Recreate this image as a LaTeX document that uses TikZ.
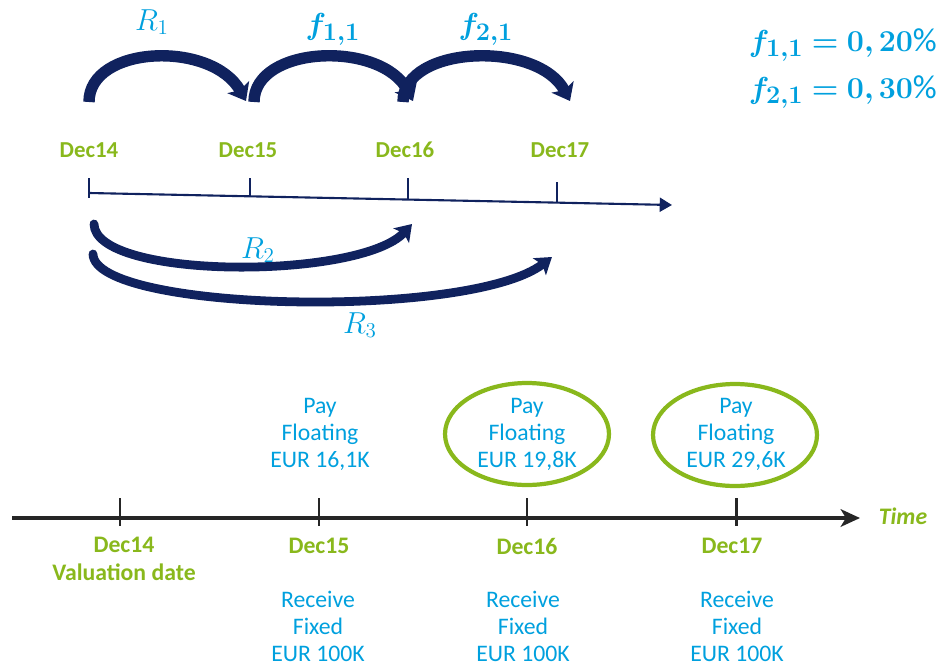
\documentclass[tikz,border=0pt]{standalone}
\usepackage{amsmath,bm}
\usepackage{fontspec}
\setmainfont{Carlito}
\usetikzlibrary{arrows.meta,shapes.geometric}
\definecolor{navy}{RGB}{16,34,94}
\definecolor{sky}{RGB}{0,160,222}
\definecolor{leaf}{RGB}{137,184,28}
\definecolor{axis}{RGB}{38,38,38}
\begin{document}
\begin{tikzpicture}[x=0.02cm,y=-0.02cm,
  smalldate/.style={text=leaf,font=\bfseries\fontsize{13}{15}\selectfont},
  bigdate/.style={text=leaf,font=\bfseries\fontsize{13.5}{16}\selectfont,align=center},
  flow/.style={text=sky,font=\fontsize{13.5}{15.4}\selectfont,align=center},
  mathlbl/.style={text=sky,font=\fontsize{17}{20}\selectfont},
  fwdlbl/.style={text=sky,font=\fontsize{19}{22}\selectfont},
  ratelbl/.style={text=sky,font=\fontsize{19}{22}\selectfont,anchor=east},
  bigarc/.style={draw=navy,line width=6.5pt,-{Stealth[length=9pt,width=14pt,inset=2pt]}},
  lowarc/.style={draw=navy,line width=5pt,line cap=round,-{Stealth[length=9pt,width=12pt,inset=2pt]}},
  topaxis/.style={draw=navy,line width=1.2pt},
  botaxis/.style={draw=axis,line width=2.3pt},
  bottick/.style={draw=axis,line width=1.7pt},
  ring/.style={draw=leaf,line width=2.4pt,ellipse,minimum width=3.28cm,minimum height=2.04cm}]
\useasboundingbox (0,0) rectangle (947,666);

% ---------- upper time line ----------
\coordinate (u0) at (89,193);
\coordinate (uend) at (672,205);
\draw[topaxis,-{Triangle[length=7pt,width=8pt]}] (u0) -- (uend);
\coordinate (u14a) at (89,178);  \coordinate (u14b) at (89,198);
\coordinate (u15a) at (250,178); \coordinate (u15b) at (250,196.3);
\coordinate (u16a) at (408,178); \coordinate (u16b) at (408,199.6);
\coordinate (u17a) at (557,182); \coordinate (u17b) at (557,202.6);
\draw[topaxis] (u14a) -- (u14b);
\draw[topaxis] (u15a) -- (u15b);
\draw[topaxis] (u16a) -- (u16b);
\draw[topaxis] (u17a) -- (u17b);

\node[smalldate] (ud14) at (89,150) {Dec14};
\node[smalldate] (ud15) at (248,150) {Dec15};
\node[smalldate] (ud16) at (405,150) {Dec16};
\node[smalldate] (ud17) at (560,150) {Dec17};

% ---------- rate arcs above ----------
\coordinate (a1s) at (89,102);  \coordinate (a1e) at (246,101);
\coordinate (a2s) at (254,102); \coordinate (a2e) at (413,101);
\coordinate (a3s) at (403,102); \coordinate (a3e) at (570,101);
\draw[bigarc] (a1s) .. controls (89,45) and (212,40) .. (a1e);
\draw[bigarc] (a2s) .. controls (254,45) and (382,40) .. (a2e);
\draw[bigarc] (a3s) .. controls (403,45) and (538,40) .. (a3e);

\node[mathlbl] (r1) at (152,22) {$R_1$};
\node[fwdlbl] (f11) at (333,29) {$\bm{f_{1,1}}$};
\node[fwdlbl] (f21) at (486,29) {$\bm{f_{2,1}}$};

% ---------- spot rate arcs below ----------
\coordinate (b2s) at (94,224);  \coordinate (b2e) at (412,224);
\coordinate (b3s) at (93,254);  \coordinate (b3e) at (552,257);
\draw[lowarc] (b2s) .. controls (95,280) and (360,280) .. (b2e);
\draw[lowarc] (b3s) .. controls (94,312) and (470,320) .. (b3e);
\node[mathlbl] (r2) at (258,250) {$R_2$};
\node[mathlbl] (r3) at (360,325) {$R_3$};

% ---------- forward rates ----------
\node[ratelbl] (rate1) at (943,45) {$\bm{f_{1,1} = 0,20\%}$};
\node[ratelbl] (rate2) at (943,92) {$\bm{f_{2,1} = 0,30\%}$};

% ---------- lower time line ----------
\coordinate (t0) at (12,518);
\coordinate (tend) at (860,518);
\draw[botaxis,-{Stealth[length=11pt,width=10pt,inset=3pt]}] (t0) -- (tend);
\node[text=leaf,font=\bfseries\itshape\fontsize{13.5}{16}\selectfont] (time) at (903,516) {Time};

\coordinate (k14a) at (120,498); \coordinate (k14b) at (120,526);
\coordinate (k15a) at (319,498); \coordinate (k15b) at (319,526);
\coordinate (k16a) at (527,498); \coordinate (k16b) at (527,526);
\coordinate (k17a) at (736,498); \coordinate (k17b) at (736,526);
\draw[bottick] (k14a) -- (k14b);
\draw[bottick] (k15a) -- (k15b);
\draw[bottick] (k16a) -- (k16b);
\draw[bottick] (k17a) -- (k17b);

\node[bigdate] (d14) at (124,559) {Dec14\\Valuation date};
\node[bigdate] (d15) at (319,546) {Dec15};
\node[bigdate] (d16) at (527,546) {Dec16};
\node[bigdate] (d17) at (732,546) {Dec17};

\node[flow] (p15) at (320,434) {Pay\\Floating\\EUR 16,1K};
\node[flow] (p16) at (527,434) {Pay\\Floating\\EUR 19,8K};
\node[flow] (p17) at (736,434) {Pay\\Floating\\EUR 29,6K};
\node[ring] (o16) at (527,434) {};
\node[ring] (o17) at (735,435) {};

\node[flow] (f15) at (318,626) {Receive\\Fixed\\EUR 100K};
\node[flow] (f16) at (523,626) {Receive\\Fixed\\EUR 100K};
\node[flow] (f17) at (737,626) {Receive\\Fixed\\EUR 100K};
\end{tikzpicture}
\end{document}
